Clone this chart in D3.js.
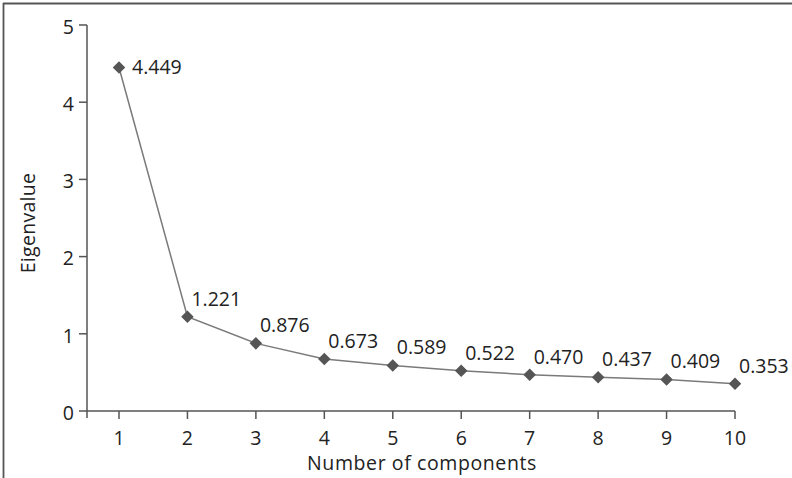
<!DOCTYPE html>
<html><head><meta charset="utf-8">
<script src="https://cdn.jsdelivr.net/npm/d3@7"></script>
<style>body{margin:0;background:#fff}svg{display:block}</style>
</head><body>
<script>
const components = [1,2,3,4,5,6,7,8,9,10];
const eigenvalues = [4.449,1.221,0.876,0.673,0.589,0.522,0.470,0.437,0.409,0.353];
const labels = ["4.449","1.221","0.876","0.673","0.589","0.522","0.470","0.437","0.409","0.353"];
const yTicks = [0,1,2,3,4,5];

const W=792,H=478;
const svg=d3.select("body").append("svg").attr("width",W).attr("height",H);
const font="'Open Sans', 'Liberation Sans', sans-serif";
const fs=19.5;

// frame
svg.append("line").attr("x1",3).attr("x2",W).attr("y1",3.5).attr("y2",3.5).attr("stroke","#555").attr("stroke-width",1.8);
svg.append("line").attr("x1",3.5).attr("x2",3.5).attr("y1",3).attr("y2",H).attr("stroke","#555").attr("stroke-width",1.8);

const x=d3.scaleLinear().domain([1,10]).range([119,735]);
const y=d3.scaleLinear().domain([0,5]).range([411,25]);
const axisX0=87;

const g=svg.append("g").attr("font-family",font).attr("fill","#222");
// y axis
g.append("line").attr("x1",axisX0).attr("x2",axisX0).attr("y1",y(5)).attr("y2",y(0)+7).attr("stroke","#555").attr("stroke-width",1.5);
yTicks.forEach(t=>{
  g.append("line").attr("x1",axisX0-8).attr("x2",axisX0).attr("y1",y(t)).attr("y2",y(t)).attr("stroke","#555").attr("stroke-width",1.5);
  g.append("text").attr("x",axisX0-13).attr("y",y(t)+2).attr("dy","0.35em").attr("text-anchor","end").attr("font-size",fs).text(t);
});
// x axis
g.append("line").attr("x1",axisX0).attr("x2",x(10)).attr("y1",y(0)).attr("y2",y(0)).attr("stroke","#555").attr("stroke-width",1.5);
components.forEach(c=>{
  g.append("line").attr("x1",x(c)).attr("x2",x(c)).attr("y1",y(0)).attr("y2",y(0)+8).attr("stroke","#555").attr("stroke-width",1.5);
  g.append("text").attr("x",x(c)).attr("y",y(0)+34).attr("text-anchor","middle").attr("font-size",fs).text(c);
});
g.append("text").attr("x",422).attr("y",470).attr("text-anchor","middle").attr("font-size",fs).attr("letter-spacing",0.6).text("Number of components");
g.append("text").attr("transform",`translate(35,223) rotate(-90)`).attr("text-anchor","middle").attr("font-size",fs).attr("letter-spacing",0.3).text("Eigenvalue");

// line
const line=d3.line().x((d,i)=>x(components[i])).y(d=>y(d));
g.append("path").datum(eigenvalues).attr("d",line).attr("fill","none").attr("stroke","#7a7a7a").attr("stroke-width",1.5);
g.selectAll("path.pt").data(eigenvalues).enter().append("path").attr("class","pt")
  .attr("d",d3.symbol().type(d3.symbolDiamond2).size(100))
  .attr("transform",(d,i)=>`translate(${x(components[i])},${y(d)})`)
  .attr("fill","#555");
// labels
g.selectAll("text.lbl").data(eigenvalues).enter().append("text").attr("class","lbl")
  .attr("x",(d,i)=>i===0?x(components[i])+13:x(components[i])+4)
  .attr("y",(d,i)=>i===0?y(d):y(d)-18)
  .attr("dy","0.35em").attr("font-size",fs).text((d,i)=>labels[i]);
</script>
</body></html>
